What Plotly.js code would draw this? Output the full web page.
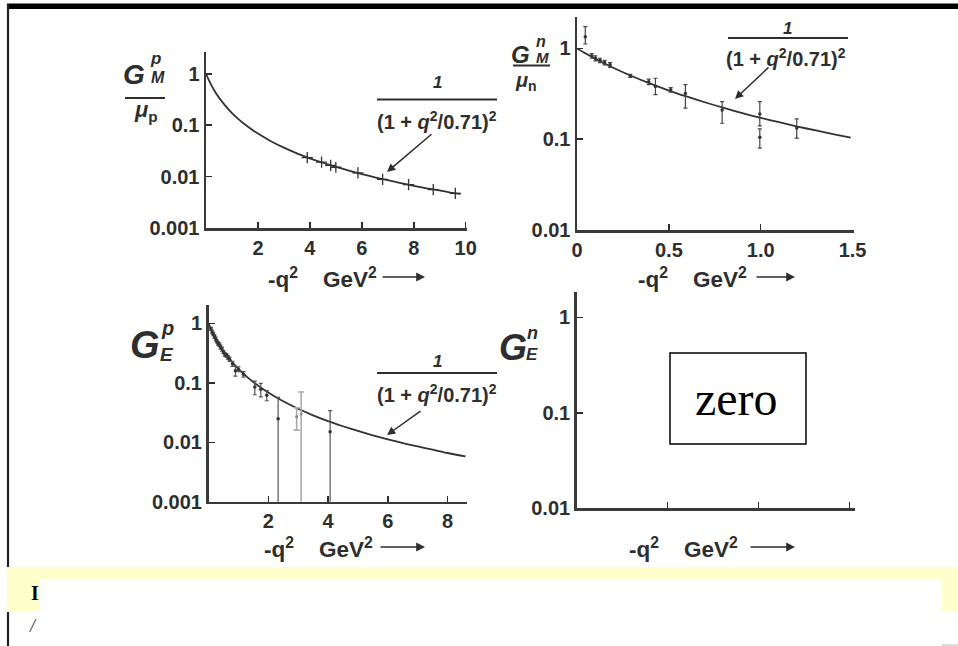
<!DOCTYPE html>
<html><head><meta charset="utf-8">
<script src="https://cdn.plot.ly/plotly-3.0.1.min.js"></script>
<style>html,body{margin:0;padding:0;background:#fff;} #chart{width:958px;height:646px;}</style>
</head><body><div id="chart"></div>
<script>
// ---------- DATA ----------
// Top-left: G_M^p / mu_p vs -q^2 (GeV^2)
const gmpCurveQ2 = [0,0.1,0.2,0.35,0.5,0.75,1,1.25,1.5,2,2.5,3,3.5,4,4.5,5,5.5,6,6.5,7,7.5,8,8.5,9,9.5,9.8];
const gmpCurve   = [1,0.768,0.609,0.449,0.344,0.237,0.172,0.131,0.103,0.0686,0.0489,0.0366,0.0284,0.0227,0.0186,0.0155,0.0131,0.0112,0.0097,0.0085,0.0075,0.0066,0.0059,0.0054,0.0048,0.0046];
const gmpQ2  = [3.9,4.45,4.8,5.0,5.85,6.8,7.8,8.75,9.6];
const gmpVal = [0.0235,0.0192,0.0165,0.0152,0.0118,0.0088,0.0070,0.0056,0.0047];

// Top-right: G_M^n / mu_n
const gmnCurveQ2 = [0,0.05,0.1,0.15,0.2,0.3,0.4,0.5,0.6,0.7,0.8,0.9,1.0,1.1,1.2,1.3,1.4,1.49];
const gmnCurve   = [1,0.873,0.768,0.682,0.609,0.494,0.409,0.344,0.294,0.254,0.221,0.194,0.172,0.154,0.138,0.125,0.113,0.104];
const gmnQ2     = [0.045,0.08,0.1,0.125,0.15,0.18,0.29,0.39,0.427,0.51,0.59,0.79,0.995,0.995,1.196];
const gmnVal    = [1.35,0.83,0.78,0.74,0.70,0.66,0.50,0.43,0.38,0.35,0.32,0.21,0.19,0.105,0.133];
const gmnErrUp  = [0.39,0.05,0.05,0.04,0.04,0.04,0.02,0.03,0.09,0.02,0.08,0.05,0.07,0.025,0.035];
const gmnErrLow = [0.23,0.05,0.05,0.04,0.04,0.04,0.02,0.03,0.07,0.02,0.10,0.06,0.05,0.025,0.03];

// Bottom-left: G_E^p (dark points, then the two paler points near 3 GeV^2)
const gepCurveQ2 = [0,0.1,0.2,0.35,0.5,0.75,1,1.25,1.5,2,2.5,3,3.5,4,4.5,5,5.5,6,6.5,7,7.5,8,8.6];
const gepCurve   = [1,0.768,0.609,0.449,0.344,0.237,0.172,0.131,0.103,0.0686,0.0489,0.0366,0.0284,0.0227,0.0186,0.0155,0.0131,0.0112,0.0097,0.0085,0.0075,0.0066,0.0058];
const gepQ2  = [0.08,0.12,0.16,0.2,0.24,0.28,0.32,0.36,0.4,0.45,0.5,0.55,0.6,0.65,0.7,0.8,0.9,1.0,1.17,1.55,1.75,1.95,2.33,4.07];
const gepVal = [0.81,0.72,0.66,0.60,0.55,0.50,0.46,0.44,0.40,0.37,0.33,0.30,0.29,0.27,0.25,0.21,0.16,0.17,0.14,0.085,0.078,0.062,0.025,0.015];
const gepErr = [0.05,0.05,0.04,0.04,0.04,0.03,0.03,0.03,0.03,0.03,0.02,0.02,0.02,0.02,0.02,0.02,0.03,0.015,0.015,0.022,0.02,0.012,0.032,0.019];
const gepPaleQ2  = [2.95,3.1];
const gepPaleVal = [0.027,0.03];
const gepPaleErr = [0.011,0.04];

// Tick labels
const yTicks3 = [0.001,0.01,0.1,1], yText3 = ['0.001','0.01','0.1','1'];
const yTicks2 = [0.01,0.1,1],       yText2 = ['0.01','0.1','1'];
const xTicksTL = [2,4,6,8,10];
const xTicksTR = [0,0.5,1,1.5], xTextTR = ['0','0.5','1.0','1.5'];
const xTicksBL = [2,4,6,8];
const xTicksBR = [0.5,1,1.5];

// ---------- LAYOUT HELPERS ----------
const W=958, H=646;
const px = x => x/W, py = y => 1 - y/H;
const INK = '#2e2e2e';
const SANS = 'Liberation Sans, Arial, sans-serif';
const tickFont = {family: SANS, size: 20, color: INK, weight: 'bold'};

function xa(d0,d1,range,tickvals,ticktext,anchor,showlabels){
  return {domain:[px(d0),px(d1)], range:range, anchor:anchor, tickmode:'array', tickvals:tickvals,
    ticktext:ticktext, showticklabels: showlabels!==false, ticks:'inside', ticklen:6, tickwidth:1.5, tickcolor:INK,
    showline:true, linewidth:2.5, linecolor:'#3a3a3a', showgrid:false, zeroline:false, tickfont:tickFont, fixedrange:true};
}
function ya(top,bottom,range,tickvals,ticktext,anchor){
  return {type:'log', domain:[py(bottom),py(top)], range:range, anchor:anchor, tickmode:'array', tickvals:tickvals,
    ticktext:ticktext, ticks:'inside', ticklen:6, tickwidth:1.5, tickcolor:INK,
    showline:true, linewidth:2.5, linecolor:'#3a3a3a', showgrid:false, zeroline:false, tickfont:tickFont, fixedrange:true};
}
function ann(text,x,y,size,extra){
  return Object.assign({text:text, x:px(x), y:py(y), xref:'paper', yref:'paper', showarrow:false, borderpad:0,
    xanchor:'center', yanchor:'middle', font:{family:SANS, size:size, color:INK, weight:'bold'}}, extra||{});
}
function arrow(hx,hy,ax,ay,w){
  return {text:'', x:px(hx), y:py(hy), xref:'paper', yref:'paper', showarrow:true, ax:ax, ay:ay,
    arrowhead:2, arrowsize:1.1, arrowwidth:w||1.6, arrowcolor:INK, standoff:0};
}
function hline(x0,x1,y,w,c){
  return {type:'line', xref:'paper', yref:'paper', x0:px(x0), x1:px(x1), y0:py(y), y1:py(y), line:{color:c||INK, width:w||2}};
}
function rect(x0,y0,x1,y1,fill,line){
  return {type:'rect', xref:'paper', yref:'paper', x0:px(x0), x1:px(x1), y0:py(y1), y1:py(y0),
    fillcolor:fill, line:line||{width:0}, layer:'above'};
}

const curveLine = {color:'#333', width:1.8, shape:'spline', smoothing:0.6};
const traces = [
  {x:gmpCurveQ2, y:gmpCurve, mode:'lines', line:curveLine, xaxis:'x', yaxis:'y', hoverinfo:'skip'},
  {x:gmpQ2, y:gmpVal, mode:'markers', xaxis:'x', yaxis:'y',
   marker:{symbol:'cross-thin-open', size:8, line:{width:1.3, color:'#333'}, color:'#333'}},
  {x:gmnCurveQ2, y:gmnCurve, mode:'lines', line:curveLine, xaxis:'x2', yaxis:'y2', hoverinfo:'skip'},
  {x:gmnQ2, y:gmnVal, mode:'markers', xaxis:'x2', yaxis:'y2',
   marker:{symbol:'circle', size:3.5, color:'#333'},
   error_y:{type:'data', symmetric:false, array:gmnErrUp, arrayminus:gmnErrLow, width:2, thickness:1.2, color:'#444'}},
  {x:gepCurveQ2, y:gepCurve, mode:'lines', line:curveLine, xaxis:'x3', yaxis:'y3', hoverinfo:'skip'},
  {x:gepQ2, y:gepVal, mode:'markers', xaxis:'x3', yaxis:'y3',
   marker:{symbol:'circle', size:3.5, color:'#333'},
   error_y:{type:'data', array:gepErr, width:2, thickness:1.2, color:'#555'}},
  {x:gepPaleQ2, y:gepPaleVal, mode:'markers', xaxis:'x3', yaxis:'y3',
   marker:{symbol:'circle', size:3, color:'#888'},
   error_y:{type:'data', array:gepPaleErr, width:3, thickness:1.6, color:'#aaa'}},
  {x:[], y:[], mode:'markers', xaxis:'x4', yaxis:'y4'}
];

const numer = '<i>1</i>';
const denom = '(1 + <i>q</i><sup>2</sup>/0.71)<sup>2</sup>';
const xTitle = '-q<sup>2</sup>\u00a0\u00a0\u00a0\u00a0GeV<sup>2</sup>';

const layout = {
  width:W, height:H, margin:{l:0,r:0,t:0,b:0}, paper_bgcolor:'#fff', plot_bgcolor:'rgba(0,0,0,0)',
  showlegend:false,
  xaxis:  xa(206,467,[0,10.05],xTicksTL,xTicksTL.map(String),'y'),
  yaxis:  ya(51.7,228,[-3,0.43],yTicks3,yText3,'x'),
  xaxis2: xa(577,853.5,[0,1.505],xTicksTR,xTextTR,'y2'),
  yaxis2: ya(16.7,230,[-2,0.35],yTicks2,yText2,'x2'),
  xaxis3: xa(208.5,466.7,[0,8.64],xTicksBL,xTicksBL.map(String),'y3'),
  yaxis3: ya(305,501.7,[-3,0.31],yTicks3,yText3,'x3'),
  xaxis4: xa(576.7,855,[0,1.53],xTicksBR,xTicksBR.map(String),'y4',false),
  yaxis4: ya(291.7,508.3,[-2,0.27],yTicks2,yText2,'x4'),
  shapes: [
    // frame of the scanned page
    rect(7,3.5,958,9,'#000'),
    {type:'line', xref:'paper', yref:'paper', x0:px(8), x1:px(8), y0:py(4), y1:py(567), line:{color:'#222', width:2.2}},
    {type:'line', xref:'paper', yref:'paper', x0:px(8), x1:px(8), y0:py(612), y1:py(646), line:{color:'#222', width:2.2}},
    rect(7,567,958,612,'#ffffcc'),
    rect(40,579,942,646,'#ffffff'),
    hline(942,958,645,1,'#bbb'),
    // fraction bars
    hline(377,497,99.5,2), hline(728,848,38,2), hline(377,497,373,2),
    hline(125,165,98,2), hline(513,550,65.5,2),
    // "zero" box
    {type:'rect', xref:'paper', yref:'paper', x0:px(670), x1:px(806), y0:py(444), y1:py(353), line:{color:'#000', width:1.5}, fillcolor:'rgba(0,0,0,0)'}
  ],
  annotations: [
    // x titles
    ann(xTitle,267,278,22.5,{xanchor:'left'}), arrow(425,277,-44,0),
    ann(xTitle,637,278,22.5,{xanchor:'left'}), arrow(795,277,-40,0),
    ann(xTitle,263,548,22.5,{xanchor:'left'}), arrow(425,547,-46,0),
    ann(xTitle,628,548,22.5,{xanchor:'left'}), arrow(795,547,-46,0),
    // dipole formula labels
    ann(numer,437,82,17), ann(denom,437,121,20), arrow(387,172,46,-39,1.5),
    ann(numer,787,28,17), ann(denom,786,57,20), arrow(735,99,35,-33,1.5),
    ann(numer,437,361,17), ann(denom,437,393,20), arrow(387,435,35,-25,1.5),
    // y labels
    ann('<i>G</i>',134,74,28), ann('<i>p</i>',155,59,17), ann('<i>M</i>',158,77,16), ann('<i>μ</i><sub>p</sub>',146,111,22),
    ann('<i>G</i>',520,54.5,24), ann('<i>n</i>',541,42,16), ann('<i>M</i>',542,57,15), ann('<i>μ</i><sub>n</sub>',526,81,20),
    ann('<i>G</i>',145,345,38), ann('<i>p</i>',167,328,20), ann('<i>E</i>',167,354,19),
    ann('<i>G</i>',513,347,36), ann('<i>n</i>',532,333,18), ann('<i>E</i>',532,354,17),
    // zero
    ann('zero',736,398,48,{font:{family:'Liberation Serif, Times New Roman, serif', size:48, color:'#000'}}),
    // fragments of the page text
    ann('I',40,593,20,{xanchor:'right', font:{family:'Liberation Serif, serif', size:20, color:'#000', weight:'bold'}}),
    ann('<i>/</i>',33,626,18,{font:{family:'Liberation Serif, serif', size:18, color:'#333'}})
  ]
};

Plotly.newPlot('chart', traces, layout, {displayModeBar:false, staticPlot:true});
</script>
</body></html>
